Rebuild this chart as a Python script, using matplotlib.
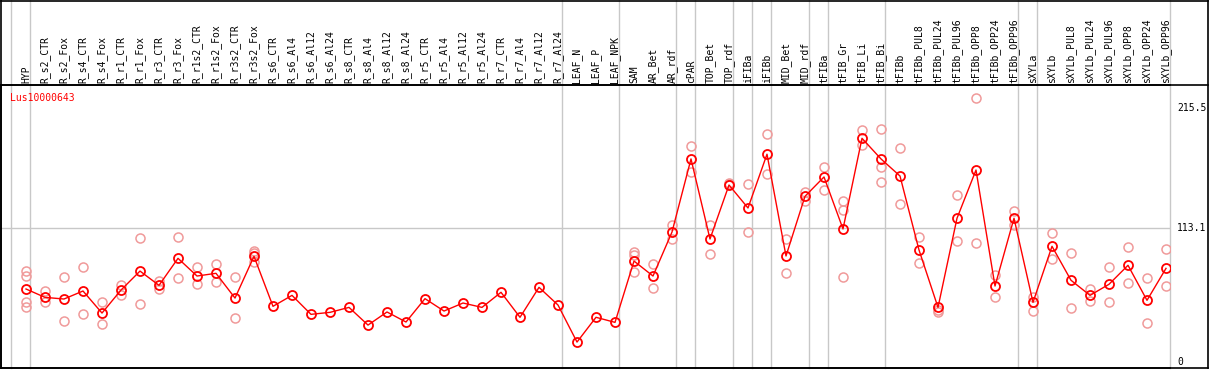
import matplotlib
matplotlib.use("Agg")
import matplotlib.pyplot as plt
import matplotlib.transforms as mtransforms
from matplotlib.lines import Line2D
import numpy as np

n = np.nan

samples = ["HYP", "R_s2_CTR", "R_s2_Fox", "R_s4_CTR", "R_s4_Fox", "R_r1_CTR", "R_r1_Fox",
           "R_r3_CTR", "R_r3_Fox", "R_r1s2_CTR", "R_r1s2_Fox", "R_r3s2_CTR", "R_r3s2_Fox",
           "R_s6_CTR", "R_s6_Al4", "R_s6_Al12", "R_s6_Al24", "R_s8_CTR", "R_s8_Al4",
           "R_s8_Al12", "R_s8_Al24", "R_r5_CTR", "R_r5_Al4", "R_r5_Al12", "R_r5_Al24",
           "R_r7_CTR", "R_r7_Al4", "R_r7_Al12", "R_r7_Al24", "LEAF_N", "LEAF_P", "LEAF_NPK",
           "SAM", "AR_Bet", "AR_rdf", "cPAR", "TOP_Bet", "TOP_rdf", "iFIBa", "iFIBb",
           "MID_Bet", "MID_rdf", "tFIBa", "tFIB_Gr", "tFIB_Li", "tFIB_Bi", "tFIBb",
           "tFIBb_PUL8", "tFIBb_PUL24", "tFIBb_PUL96", "tFIBb_OPP8", "tFIBb_OPP24",
           "tFIBb_OPP96", "sXYLa", "sXYLb", "sXYLb_PUL8", "sXYLb_PUL24", "sXYLb_PUL96",
           "sXYLb_OPP8", "sXYLb_OPP24", "sXYLb_OPP96"]

mean = [61.7, 54.6, 53.2, 60.0, 41.3, 60.8, 76.9, 64.8, 87.7, 72.7, 75.0, 54.0, 89.4,
        47.0, 56.3, 40.2, 41.9, 46.1, 31.1, 42.2, 33.7, 53.5, 43.0, 49.8, 46.1, 58.9,
        37.7, 63.1, 48.1, 16.7, 37.7, 33.4, 85.4, 72.7, 110.0, 172.0, 104.1, 149.9,
        130.4, 176.0, 89.7, 140.3, 156.7, 112.6, 189.5, 172.0, 157.5, 94.8, 46.1, 121.7,
        162.6, 64.2, 121.7, 50.4, 97.9, 69.1, 56.3, 65.7, 81.8, 52.1, 79.2]

rep1 = [77.2, 60.0, 71.6, 80.1, 50.4, 65.1, 104.7, 68.7, 105.8, 80.1, 82.9, 71.6, 94.2,
        n, n, n, n, n, n, n, n, n, n, n, n, n, n, n, n, n, n, n,
        93.3, 82.6, 116.2, 183.0, 116.0, 151.9, 150.5, 192.9, 104.1, 144.2, 165.2, 136.3,
        196.6, 197.4, 181.3, 105.5, 43.9, 141.2, 223.5, 73.6, 127.9, 54.6, 108.9, 92.0,
        61.7, 80.1, 97.1, 70.8, 95.4]
rep2 = [72.7, 50.4, 34.3, 40.2, 31.7, 56.6, 48.7, 61.9, 70.8, 65.7, 67.4, 37.1, 84.8,
        n, n, n, n, n, n, n, n, n, n, n, n, n, n, n, n, n, n, n,
        90.5, 62.5, 103.8, 160.7, 91.1, 151.0, 110.0, 159.0, 75.0, 136.3, 145.4, 128.4,
        183.8, 165.2, 133.8, 83.5, 41.9, 102.1, 100.4, 54.9, 116.0, 42.8, 86.9, 45.3,
        51.8, 50.4, 66.5, 32.6, 64.0]
rep3 = [50.4, n, n, n, n, n, n, n, n, n, n, n, 92.0,
        n, n, n, n, n, n, n, n, n, n, n, n, n, n, n, n, n, n, n,
        75.8, n, n, n, n, n, n, n, n, n, n, 71.6,
        n, 152.2, n, n, n, n, n, n, n, n, n, n,
        n, n, n, n, n]
rep4 = [46.7] + [n] * 60

# group separators sit just right of the last sample in a group
seps = [-1, 0, 28, 31, 34, 35, 37, 38, 39, 41, 42, 45, 52, 53, 60]

W, H = 1209, 370
fig = plt.figure(figsize=(W / 100, H / 100), dpi=100)
ax_l, ax_r, ax_t, ax_b = 1, 1170, 85, 368
ax = fig.add_axes([ax_l / W, (H - ax_b) / H, (ax_r - ax_l) / W, (ax_b - ax_t) / H])

x = np.arange(len(samples))
ax.set_xlim((ax_l - 26) / 19, (ax_r - 26) / 19)
ax.set_ylim(-5.3, 234.7)

grid = "#c8c8c8"
top_y = ax_b / (ax_b - ax_t)
for s in seps:
    ax.axvline(s + 0.23, 0, top_y, color=grid, lw=1, clip_on=False, zorder=1)
ax.axhline(113.1, color=grid, lw=1, zorder=1)

rep_col = "#f09a9a"
for r in [rep1, rep2, rep3, rep4]:
    ax.plot(x, r, "o", ls="none", ms=6.5, mfc="none", mec=rep_col, mew=1.1, zorder=2)
ax.plot(x, mean, "-", color="red", lw=1, zorder=3)
ax.plot(x, mean, "o", ls="none", ms=6.5, mfc="none", mec="red", mew=1.3, zorder=4)

ax.set_xticks([])
ax.set_yticks([])
for sp in ["left", "bottom", "top"]:
    ax.spines[sp].set_color("black")
    ax.spines[sp].set_linewidth(1.2)
ax.spines["right"].set_visible(False)

mono = "DejaVu Sans Mono"
trans = mtransforms.blended_transform_factory(ax.transData, ax.transAxes)
for i, name in enumerate(samples):
    ax.text(i, 1 + 2.5 / (ax_b - ax_t), name, transform=trans, rotation=90, ha="center",
            va="bottom", fontsize=7, family=mono, clip_on=False)

trans_r = mtransforms.blended_transform_factory(ax.transAxes, ax.transData)
for v, lab in [(215.5, "215.5"), (113.1, "113.1"), (0, "0")]:
    ax.text(1 + 7 / (ax_r - ax_l), v, lab, transform=trans_r, ha="left", va="center",
            fontsize=7, family=mono, clip_on=False)

fig.text(10 / W, 1 - 98 / H, "Lus10000643", color="red", fontsize=7, family=mono,
         ha="left", va="center")

# outer frame and header line
def fline(x0, y0, x1, y1):
    fig.add_artist(Line2D([x0 / W, x1 / W], [1 - y0 / H, 1 - y1 / H], color="black", lw=1.2))

fline(1, 0.5, 1208, 0.5)
fline(1, 0, 1, ax_b)
fline(1208, 0, 1208, ax_b)
fline(1, ax_b, 1208, ax_b)
fline(1, ax_t, 1208, ax_t)

fig.savefig("out.png", dpi=100)
